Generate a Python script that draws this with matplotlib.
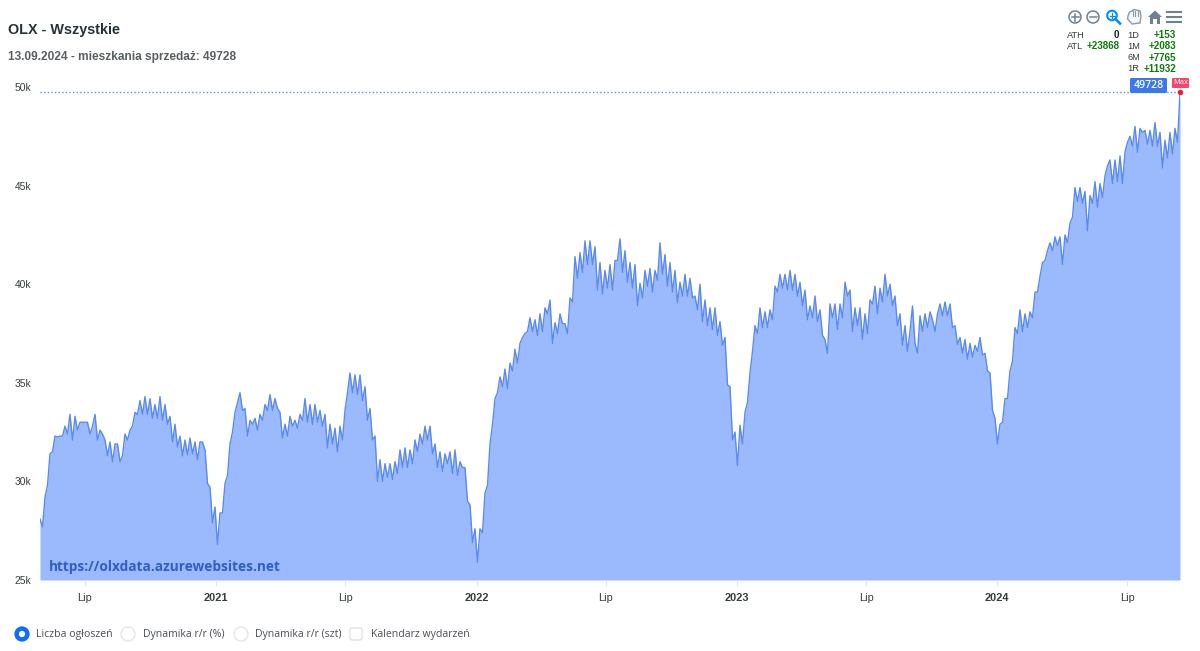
import numpy as np
import matplotlib
matplotlib.use("Agg")
import matplotlib.pyplot as plt
import matplotlib.dates as mdates
from matplotlib.patches import Circle, FancyBboxPatch, Polygon

TITLE = "OLX - Wszystkie"
SUBTITLE = "13.09.2024 - mieszkania sprzedaż: 49728"
WATERMARK = "https://olxdata.azurewebsites.net"
START_DATE = "2020-04-29"
END_DATE = "2024-09-13"
Y_TICKS = [25, 30, 35, 40, 45, 50]
Y_LABELS = ["25k", "30k", "35k", "40k", "45k", "50k"]
X_TICKS = ["2020-07-01", "2021-01-01", "2021-07-01", "2022-01-01", "2022-07-01",
           "2023-01-01", "2023-07-01", "2024-01-01", "2024-07-01"]
X_LABELS = ["Lip", "2021", "Lip", "2022", "Lip", "2023", "Lip", "2024", "Lip"]
STATS_LEFT = [("ATH", "0"), ("ATL", "+23868")]
STATS_RIGHT = [("1D", "+153"), ("1M", "+2083"), ("6M", "+7765"), ("1R", "+11932")]
OPTIONS = ["Liczba ogłoszeń", "Dynamika r/r (%)", "Dynamika r/r (szt)", "Kalendarz wydarzeń"]
MAX_VALUE = 49.728

# Listings, thousands at half-week steps
s1 = [28.1,27.7,29.2,29.8,31.4,31.5,32.3,32.25,32.3,32.3,32.8,32.4,33.4,32.1,33.3,32.6,33.0,33.0,33.0,33.0,
      32.4,32.8,33.4,32.1,32.6,32.4,32.1,31.3,32.0,31.0,31.9,31.9,31.0,31.3,32.4,32.1,
      32.6,32.8,33.5,33.4,34.1,33.4,34.3,33.4,34.2,33.2,33.9,33.2,34.3,33.1,33.9,32.9,33.3,32.0,32.9,31.75,32.3]
s2 = [31.3,32.1,31.35,32.2,31.4,32.0,31.1,32.0,32.0,31.6,29.9,29.7,27.9,28.7,26.8,28.4,28.4,29.9,30.3,31.9,
      32.5,33.5,34.0,34.5,33.6,33.7,32.3,33.1,32.9,33.2,32.6,33.4,33.1,33.9,33.6,34.4,33.6,34.2,33.7,33.5,
      32.2,32.9,32.3,33.3,32.8,33.1,32.7,33.4,33.1,34.2,33.0,33.9,32.9,33.9,33.0,33.6,32.8,33.4,31.7,32.9]
s3 = [31.9,32.7,31.5,32.8,32.1,33.6,34.5,35.5,34.5,35.4,34.4,35.4,34.1,34.8,33.1,33.7,32.1,32.3,30.0,31.1,
      30.0,30.9,30.2,30.9,30.1,31.0,30.4,31.6,30.7,31.7,30.7,31.6,30.9,32.1,31.5,32.4,31.9,32.8,32.1,32.8,
      31.4,31.9,30.7,31.5,30.5,31.4,30.9,31.5,30.4,31.6,30.3,31.0,30.7,30.7,29.0,28.8,26.9,27.6,25.9,27.6]
s4 = [27.4,29.4,29.8,31.9,32.9,34.2,34.5,35.3,34.8,35.7,34.7,36.0,35.6,36.7,36.0,37.0,37.3,37.5,37.6,38.3,
      37.6,38.2,37.4,38.5,37.6,38.8,38.5,39.2,37.0,38.05,37.5,38.5,38.0,38.0,37.5,39.3,39.1,41.4,40.3,41.6,
      40.6,42.2,41.0,42.2,41.0,41.9,39.7,41.1,39.5,40.7,39.8,41.0,39.7,41.2,41.2,42.3]
s5 = [40.6,41.7,40.1,41.1,39.8,41.0,38.9,40.05,39.3,40.7,39.9,40.8,39.6,40.7,40.2,42.1,40.5,41.5,39.9,41.1,
      39.6,40.7,39.05,40.1,39.4,40.5,39.4,40.3,39.3,39.4,38.7,40.0,38.1,39.2,37.9,38.8,37.7,38.8,37.4,38.1,
      36.9,37.3,34.9,34.8,32.1,32.5,30.8,32.85,31.9,33.5,34.0,35.5,36.6,37.9,37.5,38.8]
s6 = [37.8,38.6,37.8,38.7,38.2,39.9,39.6,40.5,39.8,40.5,39.7,40.7,39.7,40.5,39.4,40.1,38.9,39.7,38.2,38.9,
      38.3,39.4,38.1,38.7,37.4,37.2,36.5,39.0,38.3,39.0,37.7,39.0,38.3,40.1,39.4,39.7,37.6,38.8,37.9,38.8,
      37.2,38.5,37.5,39.2,39.0,39.9,38.5,39.8,39.1,40.5,39.4,40.0,38.9,39.4,37.9,38.5]
s7 = [36.9,37.9,36.6,37.6,38.9,37.0,36.5,38.4,37.6,38.5,37.8,38.6,38.2,37.6,38.5,39.0,38.4,39.1,38.4,39.0,
      37.8,37.9,36.95,37.3,36.5,37.2,36.2,37.0,36.3,36.9,36.6,37.3,36.4,36.5,35.6,35.5,33.6,33.2,31.9,32.9,
      33.0,34.2,34.2,35.6,36.1,37.8,37.5,38.7,37.6,38.5,37.8,38.6,38.3,39.6,39.6,40.4]
s8 = [41.1,41.2,41.7,42.1,41.7,42.4,41.95,42.4,41.0,42.5,42.1,43.1,43.4,44.9,44.2,44.9,44.1,44.7,42.7,44.5,
      44.1,45.2,43.9,45.1,44.4,45.5,46.0,46.3,45.1,46.3,45.2,46.5,45.1,46.7,47.2,47.5,47.0,48.0,46.7,47.9,
      47.7,47.8,47.1,47.8,47.0,48.2,47.0,47.7,45.9,47.3,46.4,47.7,46.6,47.9,47.2,49.728]

values = np.array(s1 + s2 + s3 + s4 + s5 + s6 + s7 + s8)
start_num, end_num = mdates.datestr2num(START_DATE), mdates.datestr2num(END_DATE)
dates = np.linspace(start_num, end_num, len(values))

W, H = 1200, 651
fig = plt.figure(figsize=(W / 100, H / 100), dpi=100, facecolor="white")
ax = fig.add_axes([40 / W, 1 - 580 / H, 1140 / W, 493 / H])
TEXT = "#373d3f"
FILL, LINE = "#9bb9fd", "#5a8aec"

ax.fill_between(dates, values, 25, color=FILL, lw=0)
ax.plot(dates, values, color=LINE, lw=1.0, solid_joinstyle="round")
ax.axhline(MAX_VALUE, color="#5f8fe8", lw=1, ls=(0, (1, 1.6)))
ax.plot([dates[-1]], [MAX_VALUE], "o", ms=3, color="#f02030", clip_on=False, zorder=5)
ax.set_xlim(start_num, end_num)
ax.set_ylim(25, 50)
for sp in ax.spines.values():
    sp.set_visible(False)
ax.set_yticks(Y_TICKS, Y_LABELS, family="Liberation Sans", fontsize=7.4, color=TEXT)
ax.tick_params(axis="y", length=0, pad=6)
ax.set_xticks(mdates.datestr2num(X_TICKS), X_LABELS, family="Liberation Sans", fontsize=7.9, color=TEXT)
ax.tick_params(axis="x", length=4, width=0.7, color="#e6e6e6", pad=5.5)
for lab in ax.get_xticklabels():
    if lab.get_text().isdigit():
        lab.set_fontweight("bold")

# Overlay in pixel coordinates for page furniture around the chart
ov = fig.add_axes([0, 0, 1, 1], facecolor="none")
ov.set_xlim(0, W)
ov.set_ylim(H, 0)
ov.axis("off")

ov.text(8, 30, TITLE, family="Liberation Sans", weight="bold", fontsize=10.4, color="#263238", va="center")
ov.text(8, 57, SUBTITLE, family="Liberation Sans", weight="bold", fontsize=8.55, color="#5a5f62", va="center")
ov.text(49, 567, WATERMARK, family="Open Sans", weight="bold", fontsize=9.8, color="#2f5fc6", va="center")

# Toolbar icons
GREY = "#6e8192"
ov.add_patch(Circle((1075, 17), 6, fc="none", ec=GREY, lw=1.1))
ov.plot([1071.5, 1078.5], [17, 17], color=GREY, lw=1.1)
ov.plot([1075, 1075], [13.5, 20.5], color=GREY, lw=1.1)
ov.add_patch(Circle((1093, 17), 6, fc="none", ec=GREY, lw=1.1))
ov.plot([1089.5, 1096.5], [17, 17], color=GREY, lw=1.1)
BLUE = "#008ffb"
ov.add_patch(Circle((1112, 15.5), 4.8, fc="none", ec=BLUE, lw=1.5))
ov.plot([1115.5, 1120], [19, 23.5], color=BLUE, lw=1.9)
ov.plot([1109.5, 1114.5], [15.5, 15.5], color=BLUE, lw=0.9)
ov.plot([1112, 1112], [13, 18], color=BLUE, lw=0.9)
ov.add_patch(Polygon([(1128, 16), (1129.5, 12), (1132, 11), (1134, 9.5), (1136.5, 10), (1140, 11), (1141, 16),
                      (1140, 23), (1132, 24), (1127.5, 19)], fc="#f4f6f8", ec="#8d9aa5", lw=1))
for hx in (1132.5, 1135, 1137.5):
    ov.plot([hx, hx], [11, 16], color="#8d9aa5", lw=0.8)
ov.add_patch(Polygon([(1148, 17), (1155, 10.5), (1162, 17), (1160, 17), (1160, 24), (1157, 24), (1157, 19),
                      (1153, 19), (1153, 24), (1150, 24), (1150, 17)], fc=GREY, ec="none"))
for hy in (12, 17, 22):
    ov.plot([1166.5, 1180.5], [hy, hy], color=GREY, lw=1.5)

# Change summary
STAT_GREEN = "#0b7d0b"
for i, (k, v) in enumerate(STATS_LEFT):
    y = 35 + 11.3 * i
    ov.text(1067, y, k, family="Liberation Sans", fontsize=6.7, color=TEXT, va="center")
    ov.text(1119.5, y, v, family="Liberation Sans", fontsize=7.1, weight="bold", ha="right", va="center",
            color="#222222" if v == "0" else STAT_GREEN)
for i, (k, v) in enumerate(STATS_RIGHT):
    y = 35 + 11.3 * i
    ov.text(1127, y, k, family="Liberation Sans", fontsize=6.7, color=TEXT, va="center")
    ov.text(1176, y, v, family="Liberation Sans", fontsize=7.1, weight="bold", ha="right", va="center", color=STAT_GREEN)

# Value badges
ov.add_patch(FancyBboxPatch((1130, 78), 37, 15, boxstyle="round,pad=0,rounding_size=1.5", fc="#3b78f0", ec="none"))
ov.text(1148.5, 85.3, "49728", family="Open Sans", weight="semibold", fontsize=7.6, color="white", ha="center", va="center")
ov.add_patch(FancyBboxPatch((1172, 78), 17, 10, boxstyle="round,pad=0,rounding_size=1", fc="#f2486a", ec="none"))
ov.text(1180.5, 82.8, "Max", family="Open Sans", fontsize=5.4, color="white", ha="center", va="center")

# Options under the chart
opt_x = [36, 143, 255, 371]
for lab, x in zip(OPTIONS, opt_x):
    ov.text(x, 635, lab, family="Open Sans", fontsize=7.55, color="#4a4f55", va="center")
ov.add_patch(Circle((22, 634), 5.4, fc="white", ec="#0d6efd", lw=3.2))
for cx in (128, 241):
    ov.add_patch(Circle((cx, 634), 7, fc="white", ec="#e4e6e9", lw=1))
ov.add_patch(FancyBboxPatch((350, 628), 12, 12, boxstyle="round,pad=0,rounding_size=2", fc="white", ec="#e0e2e6", lw=1))

fig.savefig("out.png", dpi=100)
